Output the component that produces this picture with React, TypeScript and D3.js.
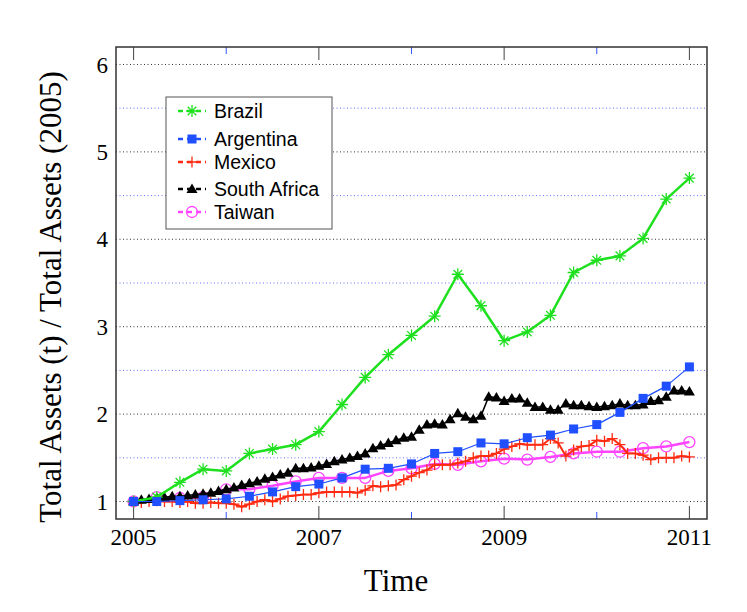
import { useEffect, useRef } from "react";
import * as d3 from "d3";

// quarterly series (2005.0 .. 2011.0)
const brazil = [1.0, 1.05, 1.22, 1.37, 1.35, 1.55, 1.6, 1.65, 1.8, 2.11, 2.42, 2.68, 2.9, 3.12, 3.6, 3.24, 2.84, 2.94, 3.13, 3.62, 3.76, 3.81, 4.01, 4.46, 4.7];
const argentina = [1.0, 1.0, 1.01, 1.02, 1.03, 1.06, 1.11, 1.17, 1.2, 1.27, 1.37, 1.38, 1.43, 1.55, 1.57, 1.67, 1.66, 1.73, 1.76, 1.83, 1.88, 2.02, 2.18, 2.32, 2.54];
const taiwan = [1.0, 1.05, 1.04, 1.05, 1.14, 1.14, 1.18, 1.23, 1.27, 1.27, 1.27, 1.35, 1.38, 1.43, 1.42, 1.46, 1.49, 1.48, 1.51, 1.55, 1.57, 1.57, 1.61, 1.63, 1.68];

// monthly series (2005.0 .. 2011.0)
const mexico = [
  1.0, 0.99, 1.0, 1.01, 1.0, 1.0, 0.99, 1.0, 0.98, 0.98, 0.99, 0.98, 0.98, 0.97, 0.94, 0.97, 1.0, 1.02, 1.0, 1.03, 1.06, 1.07, 1.08, 1.08,
  1.1, 1.11, 1.11, 1.11, 1.11, 1.1, 1.13, 1.18, 1.17, 1.18, 1.19, 1.25, 1.29, 1.33, 1.36, 1.42, 1.42, 1.42, 1.44, 1.46, 1.5, 1.52, 1.52, 1.55,
  1.6, 1.63, 1.66, 1.65, 1.65, 1.65, 1.72, 1.67, 1.52, 1.59, 1.63, 1.64, 1.7, 1.69, 1.72, 1.65, 1.55, 1.55, 1.53, 1.48, 1.5, 1.5, 1.5, 1.52, 1.51,
];
const southAfrica = [
  1.0, 1.02, 1.03, 1.04, 1.05, 1.06, 1.06, 1.07, 1.08, 1.09, 1.1, 1.12, 1.14, 1.16, 1.19, 1.21, 1.23, 1.26, 1.28, 1.31, 1.33, 1.38, 1.38, 1.39,
  1.41, 1.43, 1.46, 1.48, 1.5, 1.52, 1.55, 1.61, 1.64, 1.67, 1.7, 1.73, 1.74, 1.82, 1.88, 1.89, 1.88, 1.94, 2.01, 1.97, 1.94, 1.98,
  2.2, 2.19, 2.15, 2.18, 2.18, 2.13, 2.08, 2.08, 2.05, 2.05, 2.12, 2.1, 2.1, 2.09, 2.08, 2.09, 2.1, 2.12, 2.1, 2.1, 2.11, 2.15, 2.16, 2.2, 2.27, 2.27, 2.26,
];

const majorYears = [2005, 2007, 2009, 2011];
const minorYears = [2006, 2008, 2010];
const yTicks = [1, 2, 3, 4, 5, 6];
const yHalfTicks = [1.5, 2.5, 3.5, 4.5, 5.5];

type Marker = "asterisk" | "square" | "plus" | "triangle" | "circle";
interface Series {
  name: string;
  values: number[];
  step: number; // fraction of a year between points
  color: string;
  width: number;
  marker: Marker;
}

const series: Series[] = [
  { name: "Brazil", values: brazil, step: 1 / 4, color: "#1fe01f", width: 2.5, marker: "asterisk" },
  { name: "Argentina", values: argentina, step: 1 / 4, color: "#1f4fff", width: 1.2, marker: "square" },
  { name: "Mexico", values: mexico, step: 1 / 12, color: "#ff2a10", width: 2, marker: "plus" },
  { name: "South Africa", values: southAfrica, step: 1 / 12, color: "#000000", width: 1.5, marker: "triangle" },
  { name: "Taiwan", values: taiwan, step: 1 / 4, color: "#ff44ff", width: 2.5, marker: "circle" },
];
const drawOrder = ["Taiwan", "Mexico", "South Africa", "Brazil", "Argentina"];

function drawMarker(g: d3.Selection<SVGGElement, unknown, null, undefined>, m: Marker, color: string, x: number, y: number) {
  if (m === "asterisk") {
    const r = 6;
    const d = r * 0.72;
    g.append("path")
      .attr("d", `M${x - r},${y}H${x + r}M${x},${y - r}V${y + r}M${x - d},${y - d}L${x + d},${y + d}M${x - d},${y + d}L${x + d},${y - d}`)
      .attr("stroke", color)
      .attr("stroke-width", 1.3)
      .attr("fill", "none");
  } else if (m === "plus") {
    const r = 5.5;
    g.append("path")
      .attr("d", `M${x - r},${y}H${x + r}M${x},${y - r}V${y + r}`)
      .attr("stroke", color)
      .attr("stroke-width", 1.3)
      .attr("fill", "none");
  } else if (m === "square") {
    g.append("rect")
      .attr("x", x - 4.5)
      .attr("y", y - 4.5)
      .attr("width", 9)
      .attr("height", 9)
      .attr("fill", color);
  } else if (m === "triangle") {
    g.append("path")
      .attr("d", `M${x},${y - 5.5}L${x + 5.5},${y + 4}L${x - 5.5},${y + 4}Z`)
      .attr("fill", color);
  } else {
    g.append("circle")
      .attr("cx", x)
      .attr("cy", y)
      .attr("r", 5.5)
      .attr("fill", "none")
      .attr("stroke", color)
      .attr("stroke-width", 1.3);
  }
}

export default function App() {
  const svgRef = useRef<SVGSVGElement>(null);
  const width = 747;
  const height = 612;
  const left = 116;
  const right = 707;
  const top = 47;
  const bottom = 519;

  useEffect(() => {
    if (!svgRef.current) return;
    const svg = d3.select(svgRef.current);
    svg.selectAll("*").remove();

    const x = d3.scaleLinear().domain([2004.81, 2011.19]).range([left, right]);
    const y = d3.scaleLinear().domain([0.8, 6.2]).range([bottom, top]);

    // grid
    svg.append("g")
      .selectAll("line")
      .data(yHalfTicks)
      .join("line")
      .attr("x1", left)
      .attr("x2", right)
      .attr("y1", (d) => y(d))
      .attr("y2", (d) => y(d))
      .attr("stroke", "#6670ff")
      .attr("stroke-width", 1)
      .attr("stroke-dasharray", "1,2.5");
    svg.append("g")
      .selectAll("line")
      .data(yTicks)
      .join("line")
      .attr("x1", left)
      .attr("x2", right)
      .attr("y1", (d) => y(d))
      .attr("y2", (d) => y(d))
      .attr("stroke", "#333")
      .attr("stroke-width", 1)
      .attr("stroke-dasharray", "1,2.5");

    // ticks, bottom and top
    const ticks = svg.append("g");
    majorYears.forEach((yr) => {
      ticks.append("line").attr("x1", x(yr)).attr("x2", x(yr)).attr("y1", bottom).attr("y2", bottom - 13).attr("stroke", "#444").attr("stroke-width", 1);
      ticks.append("line").attr("x1", x(yr)).attr("x2", x(yr)).attr("y1", top).attr("y2", top + 13).attr("stroke", "#444").attr("stroke-width", 1);
    });
    minorYears.forEach((yr) => {
      ticks.append("line").attr("x1", x(yr)).attr("x2", x(yr)).attr("y1", bottom).attr("y2", bottom - 7).attr("stroke", "#3355ff").attr("stroke-width", 1);
      ticks.append("line").attr("x1", x(yr)).attr("x2", x(yr)).attr("y1", top).attr("y2", top + 7).attr("stroke", "#3355ff").attr("stroke-width", 1);
    });

    // series
    drawOrder.forEach((name) => {
      const s = series.find((d) => d.name === name)!;
      const pts: [number, number][] = s.values.map((v, i) => [x(2005 + i * s.step), y(v)]);
      const g = svg.append("g");
      g.append("path")
        .attr("d", d3.line()(pts))
        .attr("fill", "none")
        .attr("stroke", s.color)
        .attr("stroke-width", s.width)
        .attr("stroke-linejoin", "round");
      pts.forEach(([px, py]) => drawMarker(g, s.marker, s.color, px, py));
    });

    // frame
    svg.append("rect")
      .attr("x", left)
      .attr("y", top)
      .attr("width", right - left)
      .attr("height", bottom - top)
      .attr("fill", "none")
      .attr("stroke", "#333")
      .attr("stroke-width", 1.5);

    // tick labels
    svg.append("g")
      .selectAll("text")
      .data(majorYears)
      .join("text")
      .attr("x", (d) => x(d))
      .attr("y", 545)
      .attr("text-anchor", "middle")
      .attr("font-family", "'Liberation Serif', serif")
      .attr("font-size", 23)
      .text((d) => d);
    svg.append("g")
      .selectAll("text")
      .data(yTicks)
      .join("text")
      .attr("x", 108)
      .attr("y", (d) => y(d))
      .attr("dy", "0.35em")
      .attr("text-anchor", "end")
      .attr("font-family", "'Liberation Serif', serif")
      .attr("font-size", 23)
      .text((d) => d);

    // axis titles
    svg.append("text")
      .attr("x", 396)
      .attr("y", 591)
      .attr("text-anchor", "middle")
      .attr("font-family", "'Liberation Serif', serif")
      .attr("font-size", 31)
      .text("Time");
    svg.append("text")
      .attr("transform", `translate(61,297) rotate(-90)`)
      .attr("text-anchor", "middle")
      .attr("font-family", "'Liberation Serif', serif")
      .attr("font-size", 31)
      .text("Total Assets (t) / Total Assets (2005)");

    // legend
    const lg = svg.append("g");
    lg.append("rect")
      .attr("x", 166)
      .attr("y", 97)
      .attr("width", 166)
      .attr("height", 132)
      .attr("fill", "white")
      .attr("stroke", "#555")
      .attr("stroke-width", 1);
    const rowY = [111, 139, 162, 189, 212];
    series.forEach((s, i) => {
      const yy = rowY[i];
      lg.append("line")
        .attr("x1", 178)
        .attr("x2", 206)
        .attr("y1", yy)
        .attr("y2", yy)
        .attr("stroke", s.color)
        .attr("stroke-width", 2.5)
        .attr("stroke-dasharray", "5,4");
      drawMarker(lg, s.marker, s.color, 192, yy);
      lg.append("text")
        .attr("x", 214)
        .attr("y", yy)
        .attr("dy", "0.35em")
        .attr("font-family", "'Liberation Sans', Arial, sans-serif")
        .attr("font-size", 19.5)
        .text(s.name);
    });
  }, []);

  return (
    <svg
      ref={svgRef}
      width={width}
      height={height}
      style={{ position: "absolute", left: 0, top: 0, background: "white" }}
    />
  );
}
